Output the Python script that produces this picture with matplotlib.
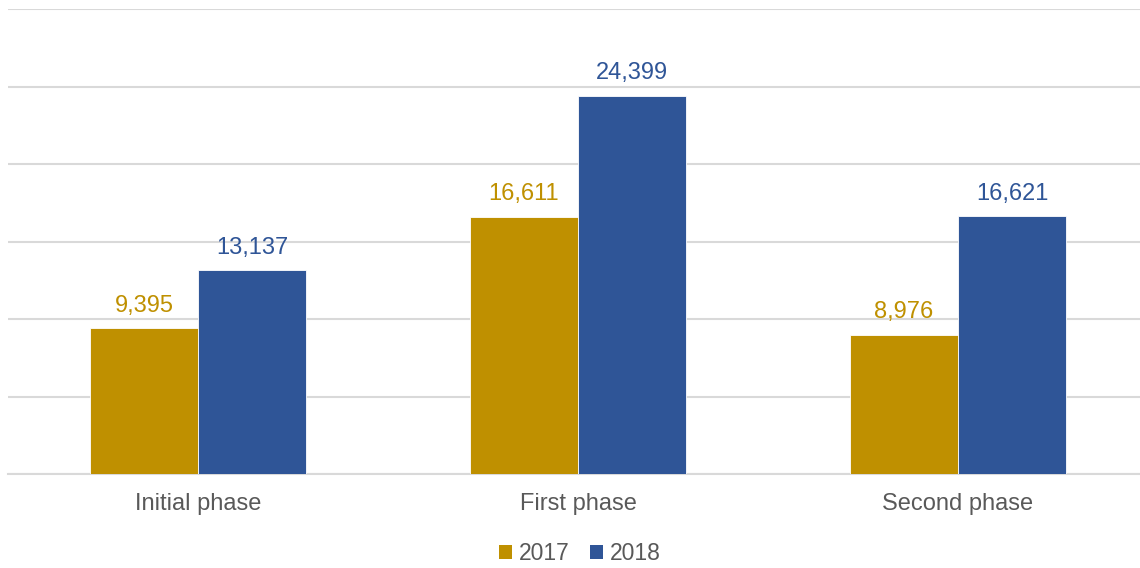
import matplotlib
matplotlib.use("Agg")
import matplotlib.pyplot as plt
import numpy as np
from matplotlib.patches import Patch

plt.rcParams['font.family'] = ['Liberation Sans', 'DejaVu Sans']

categories = ["Initial phase", "First phase", "Second phase"]
series_names = ["2017", "2018"]
values_2017 = [9395, 16611, 8976]
values_2018 = [13137, 24399, 16621]
colors = ["#BF9000", "#2F5597"]

W, H = 1140, 568
fig = plt.figure(figsize=(W / 100, H / 100), dpi=100)
ax = fig.add_axes([8 / W, 1 - 474 / H, 1140 / W, (474 - 9) / H])

x = np.arange(len(categories))
bw = 0.284
for i, (vals, col) in enumerate(zip([values_2017, values_2018], colors)):
    offs = (i - 0.5) * bw
    bars = ax.bar(x + offs, vals, width=bw, color=col, edgecolor="white",
                  linewidth=0.6, zorder=3)
    for b, v in zip(bars, vals):
        ax.annotate(f"{v:,}", (b.get_x() + b.get_width() / 2, v),
                    xytext=(0, 8.5), textcoords="offset points",
                    ha="center", va="bottom", fontsize=17, color=col)

ax.set_xlim(-0.5, 2.5)
ax.set_ylim(0, 30000)
ax.set_yticks(np.arange(0, 30001, 5000))
ax.yaxis.grid(True, color="#D9D9D9", linewidth=1.5, zorder=0)
ax.tick_params(axis="y", left=False, labelleft=False)
ax.tick_params(axis="x", length=0, pad=14, labelsize=17, labelcolor="#595959")
ax.set_xticks(x)
ax.set_xticklabels(categories)
for s in ["top", "right", "left"]:
    ax.spines[s].set_visible(False)
ax.spines["bottom"].set_color("#D9D9D9")
ax.spines["bottom"].set_linewidth(1.5)

handles = [Patch(facecolor=c, edgecolor="none") for c in colors]
fig.legend(handles, series_names, loc="center", bbox_to_anchor=(580 / W, 1 - 554 / H),
           ncol=2, frameon=False, fontsize=16.5, labelcolor="#595959",
           handlelength=0.55, handleheight=0.55, handletextpad=0.3, columnspacing=0.9)

fig.savefig("out.png", dpi=100, facecolor="white")
